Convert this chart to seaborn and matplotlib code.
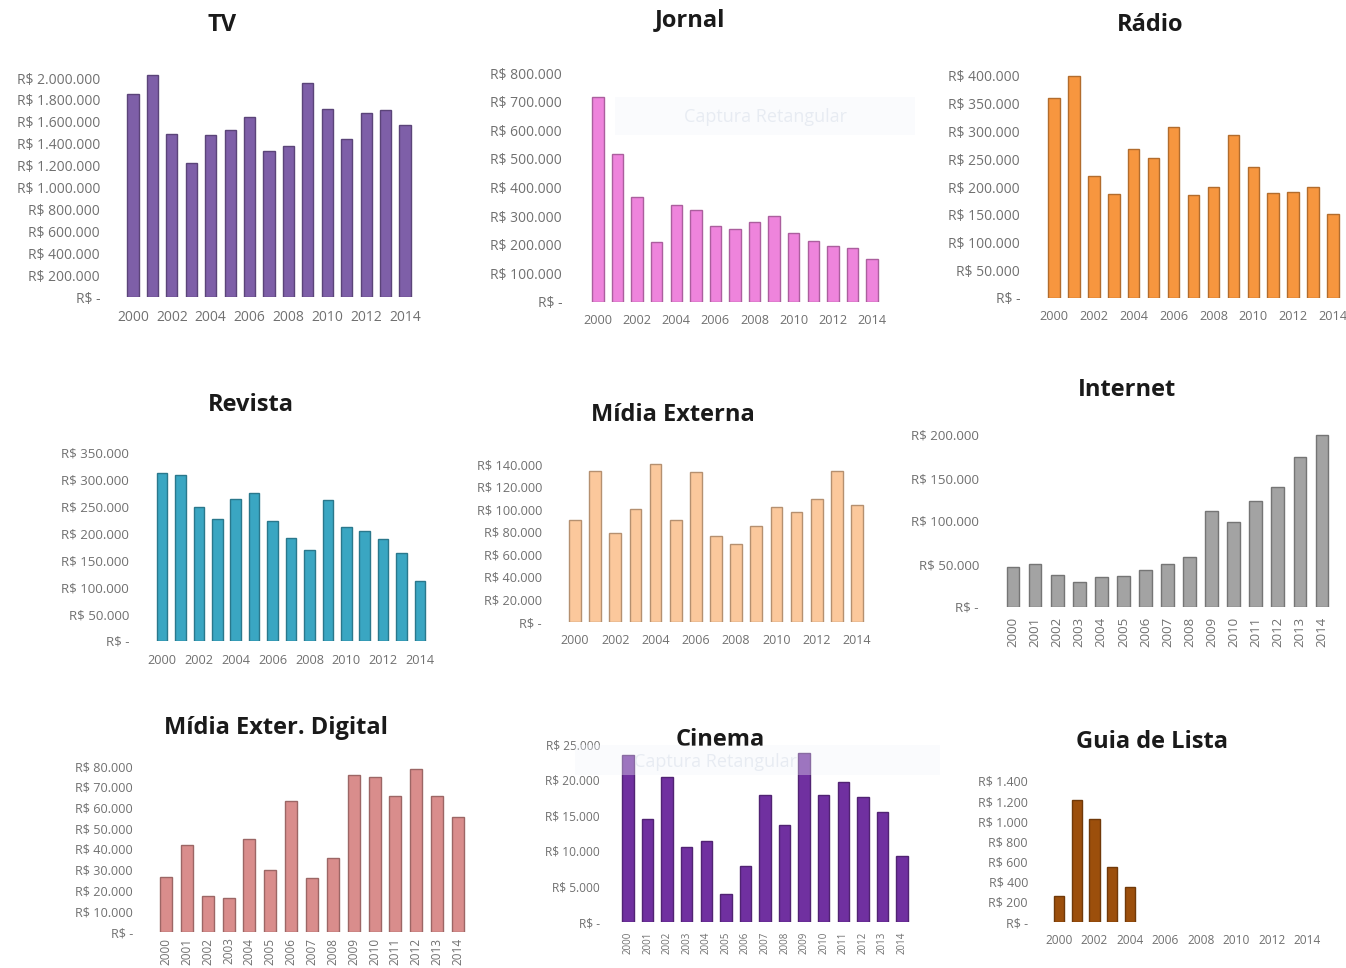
import numpy as np
import pandas as pd
import matplotlib
matplotlib.use('Agg')
import matplotlib.pyplot as plt
from matplotlib.ticker import FuncFormatter
import matplotlib.colors as mcolors
import seaborn as sns

# ============================================
# DATA
# ============================================
years = [str(y) for y in range(2000, 2015)]

tv = [1850000, 2025000, 1490000, 1220000, 1475000, 1525000, 1640000, 1330000,
      1375000, 1950000, 1715000, 1440000, 1680000, 1710000, 1575000]
jornal = [715000, 517000, 366000, 208000, 340000, 322000, 266000, 256000,
          280000, 299000, 241000, 212000, 194000, 188000, 150000]
radio = [361000, 400000, 219000, 188000, 269000, 252000, 309000, 186000,
         200000, 293000, 236000, 189000, 191000, 200000, 151000]
revista = [313000, 309000, 249000, 227000, 265000, 275000, 224000, 192000,
           169000, 263000, 212000, 205000, 190000, 164000, 112000]
midia_externa = [90700, 134000, 79000, 100000, 140000, 90000, 133000, 76500,
                 69000, 85000, 102000, 97500, 109000, 133500, 104000]
internet = [47000, 50000, 37600, 28700, 34800, 36400, 43000, 49600,
            58000, 112000, 99400, 123000, 139000, 174000, 199600]
midia_ext_digital = [26300, 42000, 17500, 16400, 44800, 29700, 63300, 26200,
                     35700, 75500, 74700, 65400, 78600, 65700, 55300]
cinema = [23500, 14400, 20400, 10600, 11400, 3900, 7900, 17800,
          13600, 23800, 17800, 19600, 17600, 15500, 9200]
guia_lista = [260, 1216, 1018, 550, 346, 0, 0, 0, 0, 0, 0, 0, 0, 0, 0]

titles = ['TV', 'Jornal', 'Rádio', 'Revista', 'Mídia Externa', 'Internet',
          'Mídia Exter. Digital', 'Cinema', 'Guia de Lista']
series = [tv, jornal, radio, revista, midia_externa, internet,
          midia_ext_digital, cinema, guia_lista]
y_steps = [200000, 100000, 50000, 50000, 20000, 50000, 10000, 5000, 200]
y_max = [2000000, 800000, 400000, 350000, 140000, 200000, 80000, 25000, 1400]

# ============================================
# LAYOUT (pixels da imagem de referencia)
# ============================================
W, H = 1346, 968
# first bar center, last bar center, zero line y, y of top tick, label right edge
geom = [
    (133, 405, 297, 78, 100),
    (598, 872, 302, 73, 562),
    (1054, 1333, 298, 76, 1020),
    (162, 420, 641, 453, 129),
    (575, 857, 622, 464, 542),
    (1013, 1322, 607, 435, 979),
    (166, 458, 932, 766, 133),
    (628, 902, 922, 744, 600),
    (1059, 1307, 922, 781, 1028),
]
title_pos = [(222, 25), (690, 20), (1150, 25), (251, 405), (673, 415),
             (1127, 390), (276, 728), (720, 740), (1152, 742)]
colors = ['#7E5FA8', '#EE84DC', '#F7963F', '#3AA6C2', '#FBC89C', '#A3A3A3',
          '#D98D8C', '#7030A0', '#9C4F0C']
rotated = [False, False, False, False, False, True, True, True, False]
ytick_size = [10, 10, 10, 9.5, 9.2, 9.6, 9.1, 8.6, 8.9]
xtick_size = [10, 9.2, 9.2, 9.2, 9, 9.5, 8.5, 7, 8.6]
xtick_pad = [9, 9, 9, 9, 9, 7, 4, 7, 9]

plt.rcParams['font.family'] = ['Open Sans', 'DejaVu Sans']


def brl(v, pos):
    if abs(v) < 1e-9:
        return 'R$ -'
    return 'R$ ' + f'{int(round(v)):,}'.replace(',', '.')


def darker(c, f=0.72):
    r, g, b = mcolors.to_rgb(c)
    return (r * f, g * f, b * f)


fig = plt.figure(figsize=(W / 100, H / 100), dpi=100)
fig.patch.set_facecolor('white')

for i, vals in enumerate(series):
    c0, c1, y0, ytick, lab_r = geom[i]
    s = (c1 - c0) / 14.0
    left_px = c0 - 0.5 * s
    width_px = 15 * s
    ppu = (y0 - ytick) / y_max[i]
    ytop = max(y_max[i], max(vals)) * 1.02
    height_px = ytop * ppu

    ax = fig.add_axes([left_px / W, 1 - y0 / H, width_px / W, height_px / H])
    df = pd.DataFrame({'ano': years, 'valor': vals})
    sns.barplot(data=df, x='ano', y='valor', color=colors[i], width=0.58,
                saturation=1, ax=ax, linewidth=0)

    # borda escura para lembrar o efeito 3D
    for p in ax.patches:
        if p.get_height() > 0:
            p.set_edgecolor(darker(colors[i]))
            p.set_linewidth(1.0)

    ax.set_xlim(-0.5, 14.5)
    ax.set_ylim(0, ytop)
    ax.set_yticks(np.arange(0, y_max[i] + 1, y_steps[i]))
    ax.yaxis.set_major_formatter(FuncFormatter(brl))
    ax.set_xlabel('')
    ax.set_ylabel('')
    for sp in ax.spines.values():
        sp.set_visible(False)
    ax.set_facecolor('none')

    pad_pt = (left_px - lab_r) * 0.72
    ax.tick_params(axis='y', length=0, pad=pad_pt, labelsize=ytick_size[i],
                   labelcolor='#707070')
    if rotated[i]:
        ax.set_xticks(range(15))
        ax.set_xticklabels(years, rotation=90)
    else:
        ax.set_xticks(range(0, 15, 2))
        ax.set_xticklabels(years[::2])
    ax.tick_params(axis='x', length=0, pad=xtick_pad[i],
                   labelsize=xtick_size[i], labelcolor='#707070')

    tx, ty = title_pos[i]
    fig.text(tx / W, 1 - ty / H, titles[i], ha='center', va='center',
             fontsize=17, fontweight='bold', color='#1a1a1a')

# marcas d'agua "Captura Retangular" da captura de tela
for (bx, by, bw, bh, tx, ty) in [(615, 97, 300, 38, 765, 117),
                                 (575, 745, 365, 30, 715, 762)]:
    fig.patches.append(plt.Rectangle((bx / W, 1 - (by + bh) / H), bw / W, bh / H,
                                     transform=fig.transFigure,
                                     facecolor='#f3f6fb', edgecolor='none',
                                     alpha=0.35, zorder=5))
    fig.text(tx / W, 1 - ty / H, 'Captura Retangular', ha='center', va='center',
             fontsize=13, color='#e3e8f0', alpha=0.8, zorder=6)

plt.savefig('out.png', dpi=100)
plt.close()
